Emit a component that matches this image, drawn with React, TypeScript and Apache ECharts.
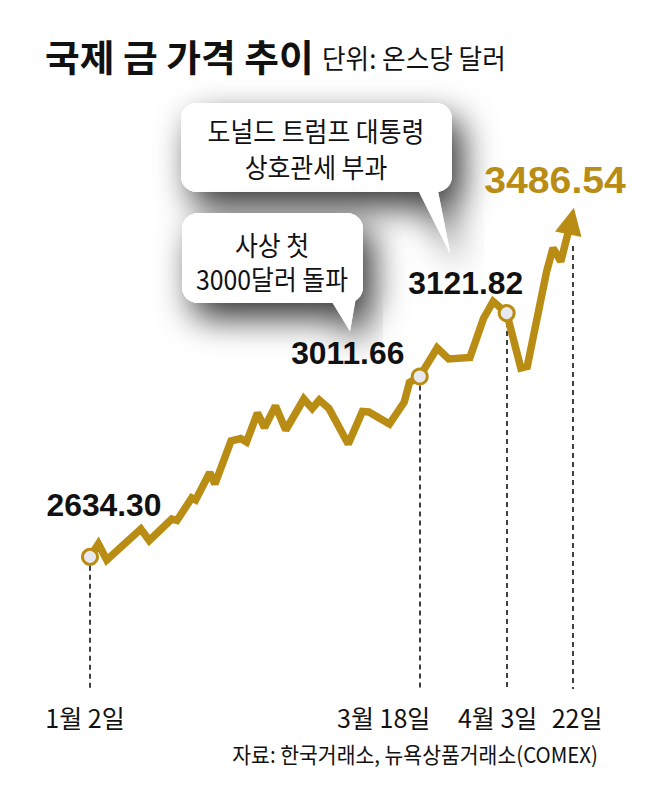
import React, { useEffect, useRef } from "react";
import * as echarts from "echarts";

// ---- data ----
// x: trading-day position along the timeline (1월 2일 = 0), y: price (USD/oz)
const dayIndex = [0, 1.3, 2.6, 7.9, 9.2, 12.7, 13.5, 15.8, 16.4, 18.6, 19.4, 21.9, 23.4, 24.3, 26.0, 27.1, 28.8, 30.4, 33.2, 34.5, 35.6, 37.1, 40.1, 42.3, 43.3, 46.5, 48.8, 49.6, 51.2, 53.9, 55.7, 59.0, 61.1, 62.6, 64.7, 66.9, 67.9, 70.9, 71.9, 73.1, 74.7];
const prices = [2634.3, 2660, 2628, 2690, 2667, 2710, 2707, 2752, 2748, 2803, 2780, 2866, 2871, 2864, 2922, 2893, 2936, 2888, 2950, 2931, 2948, 2931, 2860, 2925, 2924, 2900, 2944, 2983, 2995, 3052, 3030, 3033, 3111, 3145, 3121.82, 3012, 3015, 3205, 3252, 3225, 3306];

const markedIdx = [0, 28, 34]; // circled points
const valueLabels = ["2634.30", "3011.66", "3121.82", "3486.54"];
const valueLabelIdx = [0, 28, 34, 40];

const dateTicks = [0, 51.2, 64.7, 75];
const dateLabels = ["1월 2일", "3월 18일", "4월 3일", "22일"];
const datePointIdx = [0, 28, 34, 40];

const titleText = "국제 금 가격 추이";
const unitText = "단위: 온스당 달러";
const sourceText = "자료: 한국거래소, 뉴욕상품거래소(COMEX)";
const bubble1Lines = ["도널드 트럼프 대통령", "상호관세 부과"];
const bubble2Lines = ["사상 첫", "3000달러 돌파"];

const X_MIN = 0;
const X_MAX = 75;
const Y_MIN = 2370;
const Y_MAX = 3400;

const GOLD = "#B98C14";
const KR = "'Noto Sans CJK KR', 'Noto Sans', sans-serif";
const NUM = "'Liberation Sans', Arial, sans-serif";

export default function App() {
  const ref = useRef<HTMLDivElement>(null);

  useEffect(() => {
    const chart = echarts.init(ref.current as HTMLDivElement, undefined, { renderer: "svg" });
    const last = dayIndex.length - 1;

    const seriesData = dayIndex.map((d, i) => {
      const item: any = { value: [d, prices[i]] };
      if (markedIdx.includes(i)) {
        item.symbol = "circle";
        item.symbolSize = 15;
        item.itemStyle = { color: "#E8E8F0", borderColor: GOLD, borderWidth: 3 };
      }
      if (i === last) {
        item.symbol = "triangle";
        item.symbolSize = [27, 27];
        item.symbolRotate = -12;
        item.itemStyle = { color: GOLD, borderWidth: 0 };
      }
      return item;
    });

    const dashStartOffsets = [18, 18, 18, 50];
    const dashData = dateTicks.map((t, i) => [
      { coord: [t, prices[datePointIdx[i]] - dashStartOffsets[i]] },
      { coord: [t, Y_MIN] },
    ]);

    const labelShift = [
      [0, 10, 0, 0],
      [0, 72, 0, 0],
      [0, 18, 0, 0],
      [0, 0, 0, 8],
    ];
    const rich: any = {};
    dateLabels.forEach((_, i) => {
      rich["d" + i] = { fontSize: 25, color: "#111", fontFamily: KR, padding: labelShift[i] };
    });

    chart.setOption({
      animation: false,
      backgroundColor: "#ffffff",
      textStyle: { fontFamily: KR },
      grid: { left: 90, right: 85, top: 174, bottom: 107 },
      xAxis: {
        type: "value",
        min: X_MIN,
        max: X_MAX,
        axisLine: { show: false },
        axisTick: { show: false },
        splitLine: { show: false },
        axisLabel: {
          customValues: dateTicks,
          margin: 15,
          fontSize: 25,
          color: "#111",
          fontFamily: KR,
          formatter: (v: number) => {
            const i = dateTicks.findIndex((t) => Math.abs(t - v) < 0.01);
            return i >= 0 ? `{d${i}|${dateLabels[i]}}` : "";
          },
          rich,
        },
      },
      yAxis: {
        type: "value",
        min: Y_MIN,
        max: Y_MAX,
        show: false,
        splitLine: { show: false },
      },
      series: [
        {
          type: "line",
          data: seriesData,
          symbol: "none",
          showSymbol: true,
          lineStyle: { color: GOLD, width: 7.5, join: "miter", miterLimit: 2 },
          z: 3,
          markLine: {
            silent: true,
            symbol: ["none", "none"],
            label: { show: false },
            lineStyle: { color: "#111", width: 1.6, type: [5, 4] },
            data: dashData,
            z: 1,
          },
        },
      ],
    });

    const toPx = (i: number) =>
      chart.convertToPixel({ xAxisIndex: 0, yAxisIndex: 0 }, [dayIndex[i], prices[i]]) as number[];

    const labelOffsets = [
      [14, -52],
      [-72, -23],
      [-41, -30],
      [-16, -41],
    ];

    const numberTexts = valueLabels.map((t, k) => {
      const p = toPx(valueLabelIdx[k]);
      const isLast = k === valueLabels.length - 1;
      return {
        type: "text",
        x: p[0] + labelOffsets[k][0],
        y: p[1] + labelOffsets[k][1],
        scaleX: isLast ? 1.12 : 1.06,
        scaleY: 1.05,
        z: 20,
        style: {
          text: t,
          fontFamily: NUM,
          fontWeight: "bold",
          fontSize: isLast ? 35 : 30,
          fill: isLast ? GOLD : "#111",
          align: "center",
          verticalAlign: "middle",
        },
      };
    });

    const shadow = {
      shadowBlur: 34,
      shadowColor: "rgba(0,0,0,0.8)",
      shadowOffsetX: 10,
      shadowOffsetY: 15,
    };

    const bubble = (x: number, y: number, w: number, h: number, tail: number[][], z: number) => [
      { type: "rect", z, shape: { x, y, width: w, height: h, r: 16 }, style: { fill: "#fff", ...shadow } },
      { type: "polygon", z, shape: { points: tail }, style: { fill: "#fff", ...shadow } },
      { type: "rect", z: z + 1, shape: { x, y, width: w, height: h, r: 16 }, style: { fill: "#fff" } },
      { type: "polygon", z: z + 1, shape: { points: tail }, style: { fill: "#fff" } },
    ];

    const bubbleText = (lines: string[], cx: number, ys: number[], z: number) =>
      lines.map((t, i) => ({
        type: "text",
        x: cx,
        y: ys[i],
        z,
        scaleX: 0.92,
        style: {
          text: t,
          fontFamily: KR,
          fontSize: 27,
          fill: "#111",
          align: "center",
          verticalAlign: "middle",
        },
      }));

    chart.setOption({
      graphic: [
        {
          type: "text",
          x: 45,
          y: 56,
          z: 20,
          scaleX: 1.02,
          style: {
            text: titleText,
            fontFamily: KR,
            fontWeight: "bold",
            fontSize: 37,
            fill: "#111",
            align: "left",
            verticalAlign: "middle",
          },
        },
        {
          type: "text",
          x: 322,
          y: 57,
          z: 20,
          scaleX: 0.95,
          style: {
            text: unitText,
            fontFamily: KR,
            fontSize: 27,
            fill: "#111",
            align: "left",
            verticalAlign: "middle",
          },
        },
        ...bubble(181, 103, 271, 89, [[416, 186], [437, 186], [450, 253]], 5),
        ...bubble(182, 213, 181, 90, [[329, 297], [356, 297], [350, 331]], 7),
        ...bubbleText(bubble1Lines, 316, [130, 166], 12),
        ...bubbleText(bubble2Lines, 272, [244, 278], 12),
        ...numberTexts,
        {
          type: "text",
          x: 598,
          y: 753,
          z: 20,
          scaleX: 0.93,
          style: {
            text: sourceText,
            fontFamily: KR,
            fontSize: 22,
            fill: "#111",
            align: "right",
            verticalAlign: "middle",
          },
        },
      ],
    });

    return () => chart.dispose();
  }, []);

  return (
    <div
      ref={ref}
      style={{ position: "fixed", left: 0, top: 0, width: 658, height: 796, background: "#fff" }}
    />
  );
}
